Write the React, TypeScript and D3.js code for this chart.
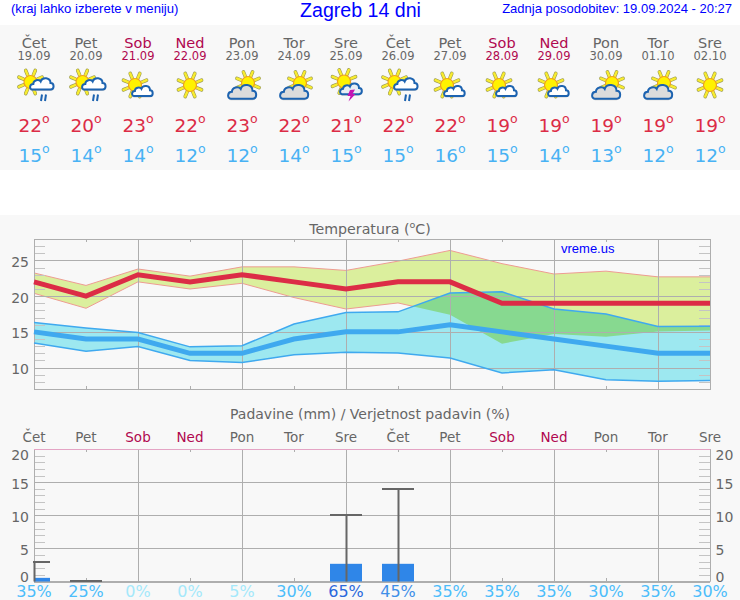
import * as d3 from "d3";
import { useEffect, useRef } from "react";

const dayNames = ["Čet", "Pet", "Sob", "Ned", "Pon", "Tor", "Sre", "Čet", "Pet", "Sob", "Ned", "Pon", "Tor", "Sre"];
const dates = ["19.09", "20.09", "21.09", "22.09", "23.09", "24.09", "25.09", "26.09", "27.09", "28.09", "29.09", "30.09", "01.10", "02.10"];
const icons = ["rain", "rain", "sunCloud", "sun", "cloudSun", "cloudSun", "storm", "rain", "sunCloud", "sunCloud", "sunCloud", "cloudSun", "cloudSun", "sun"];
const tempHigh = [22, 20, 23, 22, 23, 22, 21, 22, 22, 19, 19, 19, 19, 19];
const tempLow = [15, 14, 14, 12, 12, 14, 15, 15, 16, 15, 14, 13, 12, 12];
const highBandTop = [23.25, 21.5, 23.8, 22.8, 24.1, 24.1, 23.6, 24.9, 26.4, 24.55, 23.1, 23.5, 22.7, 22.7];
const highBandBottom = [20.4, 18.3, 22, 21, 21.8, 19.8, 18.2, 19.05, 17.4, 13.35, 14.7, 14.3, 15.05, 15.2];
const lowBandTop = [16.3, 15.55, 14.9, 12.9, 13.05, 16.1, 17.7, 17.8, 20.45, 20.6, 18.2, 17.5, 15.75, 15.8];
const lowBandBottom = [13.45, 12.3, 12.95, 11, 10.7, 11.8, 12.15, 12.05, 11.35, 9.25, 9.7, 8.3, 8.1, 8.2];
const rainAmount = [0.55, 0, 0, 0, 0, 0, 2.67, 2.67, 0, 0, 0, 0, 0, 0];
const rainMax = [2.87, 0.15, 0, 0, 0, 0, 10, 14, 0, 0, 0, 0, 0, 0];
const rainChance = [35, 25, 0, 0, 5, 30, 65, 45, 35, 35, 35, 30, 35, 30];
const tempTicks = [10, 15, 20, 25];
const rainTicks = [0, 5, 10, 15, 20];

const WIDTH = 740;
const HEIGHT = 600;
const PLOT = { left: 34, right: 710 };
const SANS = "'DejaVu Sans', sans-serif";
const ARIAL = "'Liberation Sans', sans-serif";
const GREY = "#666666";
const WEEKEND = "#b0084f";
const LINE_GREY = "#aeaeae";
const MINOR_GREY = "#c4c4c4";
const days = d3.range(dayNames.length);

const dayColor = (i: number) => (i === 2 || i === 3 || i === 9 || i === 10 ? WEEKEND : GREY);
const chanceColor = (p: number) => {
  if (p >= 60) return "#2a68dc";
  if (p >= 40) return "#3f8fe8";
  if (p >= 25) return "#4cbdfb";
  return "#a4e8fb";
};

const CLOUD = "M3,16 C-1,16 -1,9 4,9 C4,4 11,3 13,6 C15,0 25,1 25,8 C30,8 30,16 25,16 Z";

function addSun(g: any, cx: number, cy: number, r: number, rays: number) {
  d3.range(8).forEach((k) => {
    const a = (k * Math.PI) / 4 + Math.PI / 8;
    const ray = (color: string, w: number) =>
      g.append("line")
        .attr("x1", cx + Math.cos(a) * (r + 1))
        .attr("y1", cy + Math.sin(a) * (r + 1))
        .attr("x2", cx + Math.cos(a) * rays)
        .attr("y2", cy + Math.sin(a) * rays)
        .attr("stroke", color)
        .attr("stroke-width", w)
        .attr("stroke-linecap", "round");
    ray("#9a9a50", 3.6);
    ray("#f8ec30", 2.4);
  });
  g.append("circle")
    .attr("cx", cx)
    .attr("cy", cy)
    .attr("r", r)
    .attr("fill", "#fff200")
    .attr("stroke", "#f0a020")
    .attr("stroke-width", 1.2);
}

function addCloud(g: any, x: number, y: number, scale: number, fill: string) {
  g.append("path")
    .attr("d", CLOUD)
    .attr("transform", `translate(${x},${y + 1.5}) scale(${scale})`)
    .attr("fill", "#999999")
    .attr("opacity", 0.45);
  g.append("path")
    .attr("d", CLOUD)
    .attr("transform", `translate(${x},${y}) scale(${scale})`)
    .attr("fill", fill)
    .attr("stroke", "#1d63b0")
    .attr("stroke-width", 2 / scale);
}

function addIcon(g: any, kind: string) {
  if (kind === "sun") {
    addSun(g, 0, -3, 6.5, 12.5);
  } else if (kind === "sunCloud") {
    addSun(g, -3, -3, 6.5, 12.5);
    addCloud(g, -6, -3.5, 0.72, "#ffffff");
  } else if (kind === "cloudSun") {
    addSun(g, 6, -5, 6.5, 12);
    addCloud(g, -14, -5, 0.98, "#dcdcdc");
  } else if (kind === "rain") {
    addSun(g, -3.5, -6, 6.5, 12.5);
    addCloud(g, -4, -11.5, 0.82, "#ffffff");
    [7, 11].forEach((x) =>
      g.append("line")
        .attr("x1", x + 1)
        .attr("y1", 6.5)
        .attr("x2", x)
        .attr("y2", 13)
        .attr("stroke", "#1d63b0")
        .attr("stroke-width", 2),
    );
  } else {
    addSun(g, -2, -6.5, 6.5, 12.5);
    addCloud(g, -6, -6, 0.76, "#e8eef4");
    g.append("path")
      .attr("d", "M4,2 L9,1.5 L6.5,6 L9.5,6 L2.5,13.5 L4.5,8 L1.5,8 Z")
      .attr("fill", "#c414b4");
  }
}

export default function App() {
  const svgRef = useRef<SVGSVGElement | null>(null);

  useEffect(() => {
    if (!svgRef.current) return;
    const svg = d3.select(svgRef.current);
    svg.selectAll("*").remove();

    const x = d3.scaleLinear().domain([0, 13]).range([PLOT.left, PLOT.right]);
    const yTemp = d3.scaleLinear().domain([7, 28]).range([389, 239]);
    const yRain = d3.scaleLinear().domain([0, 20]).range([581.5, 449]);
    const snap = (s: d3.ScaleLinear<number, number>) => s.copy().interpolate(d3.interpolateRound);
    const text = (tx: number, ty: number, value: string, size: number, fill: string, anchor = "middle", family = SANS) =>
      svg.append("text")
        .attr("x", tx)
        .attr("y", ty)
        .attr("font-family", family)
        .attr("font-size", size)
        .attr("fill", fill)
        .attr("text-anchor", anchor)
        .text(value);

    svg.append("rect").attr("y", 25).attr("width", WIDTH).attr("height", 145).attr("fill", "#f8f8f8");
    svg.append("rect").attr("y", 215).attr("width", WIDTH).attr("height", 385).attr("fill", "#f8f8f8");

    text(11, 13, "(kraj lahko izberete v meniju)", 13.1, "#0000ff", "start", ARIAL);
    text(360.5, 17, "Zagreb 14 dni", 19.6, "#0000ff", "middle", ARIAL);
    text(732, 13, "Zadnja posodobitev: 19.09.2024 - 20:27", 13, "#0000ff", "end", ARIAL);

    // header columns
    const degrees = (tx: number, ty: number, value: number, fill: string) => {
      const t = text(tx, ty, `${value}`, 18.5, fill);
      t.append("tspan").attr("font-size", 12.5).attr("dy", -9).text("o");
    };
    days.forEach((i) => {
      text(x(i), 48, dayNames[i], 14.5, dayColor(i));
      text(x(i), 60, dates[i], 11.5, dayColor(i));
      addIcon(svg.append("g").attr("transform", `translate(${x(i)},88)`), icons[i]);
      degrees(x(i), 132, tempHigh[i], "#dc2c46");
      degrees(x(i), 162, tempLow[i], "#48b2f4");
    });

    // temperature chart
    const tempTitle = text(370, 234, "Temperatura (", 14.2, GREY);
    tempTitle.append("tspan").attr("font-size", 9.5).attr("dy", -6).text("o");
    tempTitle.append("tspan").attr("dy", 6).text("C)");

    const band = (top: number[], bottom: number[]) =>
      d3.area<number>()
        .x((i) => x(i))
        .y0((i) => yTemp(bottom[i]))
        .y1((i) => yTemp(top[i]))(days) ?? "";
    const edge = (values: number[], y: d3.ScaleLinear<number, number>) =>
      d3.line<number>()
        .x((i) => x(i))
        .y((i) => y(values[i]))(days) ?? "";
    const stroke = (d: string, color: string, w: number) =>
      svg.append("path").attr("d", d).attr("fill", "none").attr("stroke", color).attr("stroke-width", w);

    // high band edges go under the low band, the overlap hides them
    svg.append("clipPath").attr("id", "high-band").append("path").attr("d", band(highBandTop, highBandBottom));
    svg.append("path").attr("d", band(highBandTop, highBandBottom)).attr("fill", "#dbef9d");
    stroke(edge(highBandTop, yTemp), "#ee9c92", 1);
    stroke(edge(highBandBottom, yTemp), "#ee9c92", 1);
    svg.append("path").attr("d", band(lowBandTop, lowBandBottom)).attr("fill", "#9de8f0");
    svg.append("path")
      .attr("d", band(lowBandTop, lowBandBottom))
      .attr("fill", "#87d990")
      .attr("clip-path", "url(#high-band)");

    const grid = (y: d3.ScaleLinear<number, number>, majors: number[], top: number, bottom: number, name: string) => {
      const root = svg.append("g").attr("class", name);
      const [lo, hi] = y.domain();
      const minors = d3.range(lo, hi + 1).filter((v) => !majors.includes(v));
      const axes = [
        { axis: d3.axisRight(snap(y)), at: PLOT.left },
        { axis: d3.axisLeft(snap(y)), at: PLOT.right },
      ];
      axes.forEach(({ axis, at }) => {
        root.append("g")
          .attr("transform", `translate(${at},0)`)
          .call(axis.tickValues(minors).tickSize(11).tickFormat(() => "").tickSizeOuter(0))
          .call((g: any) => g.select(".domain").remove())
          .call((g: any) => g.selectAll("line").attr("stroke", MINOR_GREY));
      });
      root.append("g")
        .attr("transform", `translate(${PLOT.left},0)`)
        .call(d3.axisRight(snap(y)).tickValues(majors).tickSize(PLOT.right - PLOT.left).tickFormat(() => "").tickSizeOuter(0))
        .call((g: any) => g.select(".domain").remove())
        .call((g: any) => g.selectAll("line").attr("stroke", LINE_GREY));
      root.append("g")
        .attr("transform", `translate(0,${top})`)
        .call(d3.axisBottom(x).tickValues(days.filter((i) => i % 2 === 0)).tickSize(bottom - top).tickFormat(() => "").tickSizeOuter(0))
        .call((g: any) => g.select(".domain").remove())
        .call((g: any) => g.selectAll("line").attr("stroke", LINE_GREY));
      [top, bottom].forEach((at, k) => {
        root.append("g")
          .attr("transform", `translate(0,${at})`)
          .call((k === 0 ? d3.axisBottom(x) : d3.axisTop(x)).tickValues(days.filter((i) => i % 2 === 1)).tickSize(3).tickFormat(() => "").tickSizeOuter(0))
          .call((g: any) => g.select(".domain").remove())
          .call((g: any) => g.selectAll("line").attr("stroke", LINE_GREY));
      });
      return root;
    };

    const tempGrid = grid(yTemp, tempTicks, 239, 389, "temp-grid");
    tempGrid.append("rect")
      .attr("x", PLOT.left + 0.5)
      .attr("y", 239.5)
      .attr("width", PLOT.right - PLOT.left)
      .attr("height", 150)
      .attr("fill", "none")
      .attr("stroke", LINE_GREY);

    stroke(edge(lowBandTop, yTemp), "#3fa9ef", 1.5);
    stroke(edge(lowBandBottom, yTemp), "#3fa9ef", 1.5);
    stroke(edge(tempLow, yTemp), "#3fa9ef", 5);
    stroke(edge(tempHigh, yTemp), "#dc2c46", 5);

    tempTicks.forEach((t) => text(29, yTemp(t) + 6.5, `${t}`, 14, GREY, "end"));
    text(561, 253, "vreme.us", 13, "#0000ff", "start", ARIAL);

    // precipitation chart
    text(370, 419, "Padavine (mm) / Verjetnost padavin (%)", 14, GREY);
    days.forEach((i) => text(x(i), 442, dayNames[i], 13.5, dayColor(i)));

    const rainGrid = grid(yRain, rainTicks, 449, 581, "rain-grid");
    rainGrid.append("line")
      .attr("x1", PLOT.left)
      .attr("x2", PLOT.right + 0.5)
      .attr("y1", 449.5)
      .attr("y2", 449.5)
      .attr("stroke", "#e4a4c4");
    rainGrid.append("line")
      .attr("x1", PLOT.left)
      .attr("x2", PLOT.right + 0.5)
      .attr("y1", 581.5)
      .attr("y2", 581.5)
      .attr("stroke", LINE_GREY);
    rainGrid.append("line")
      .attr("x1", PLOT.right + 0.5)
      .attr("x2", PLOT.right + 0.5)
      .attr("y1", 449.5)
      .attr("y2", 581.5)
      .attr("stroke", LINE_GREY);

    const rainLabelShift: Record<number, number> = { 0: 0.5, 5: 7, 10: 7, 15: 7, 20: 11 };
    rainTicks.forEach((t) => {
      text(29, yRain(t) + rainLabelShift[t], `${t}`, 14, GREY, "end");
      text(715.5, yRain(t) + rainLabelShift[t], `${t}`, 14, GREY, "start");
    });

    const capHalf = 16;
    svg.append("clipPath")
      .attr("id", "rain-plot")
      .append("rect")
      .attr("x", PLOT.left - 1)
      .attr("y", 440)
      .attr("width", PLOT.right - PLOT.left + 1)
      .attr("height", 142);
    const rainMarks = svg.append("g").attr("clip-path", "url(#rain-plot)");
    days.forEach((i) => {
      if (rainAmount[i] > 0) {
        rainMarks.append("rect")
          .attr("x", Math.max(x(i) - capHalf, PLOT.left))
          .attr("y", yRain(rainAmount[i]))
          .attr("width", i === 0 ? capHalf : capHalf * 2)
          .attr("height", yRain(0) - yRain(rainAmount[i]))
          .attr("fill", "#2f86e8");
      }
      if (rainMax[i] > 0) {
        rainMarks.append("line")
          .attr("x1", x(i) + 0.5)
          .attr("x2", x(i) + 0.5)
          .attr("y1", yRain(rainMax[i]))
          .attr("y2", yRain(0))
          .attr("stroke", GREY)
          .attr("stroke-width", 2);
        rainMarks.append("line")
          .attr("x1", x(i) - capHalf)
          .attr("x2", x(i) + capHalf)
          .attr("y1", Math.round(yRain(rainMax[i])))
          .attr("y2", Math.round(yRain(rainMax[i])))
          .attr("stroke", GREY)
          .attr("stroke-width", 2);
      }
    });

    days.forEach((i) => text(x(i), 597, `${rainChance[i]}%`, 16, chanceColor(rainChance[i])));
  }, []);

  return (
    <svg
      ref={svgRef}
      width={WIDTH}
      height={HEIGHT}
      viewBox={`0 0 ${WIDTH} ${HEIGHT}`}
      style={{ position: "absolute", left: 0, top: 0, background: "#ffffff" }}
    />
  );
}
